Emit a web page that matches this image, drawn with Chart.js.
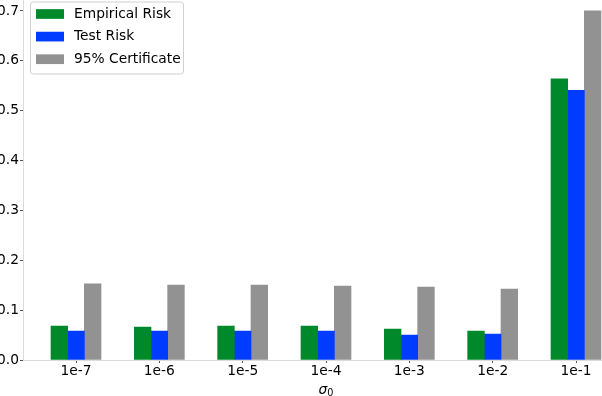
<!DOCTYPE html>
<html>
<head>
<meta charset="utf-8">
<script src="https://cdn.jsdelivr.net/npm/chart.js@4"></script>
<style>
  html, body { margin: 0; padding: 0; background: #fff; overflow: hidden; width: 602px; height: 396px; }
  #riskChart { position: absolute; left: -40px; top: -20px; width: 700px; height: 440px; }
</style>
</head>
<body>
<canvas id="riskChart" width="700" height="440"></canvas>
<script>
// Data
const sigmaLabels = ['1e-7', '1e-6', '1e-5', '1e-4', '1e-3', '1e-2', '1e-1'];
const empiricalRisk = [0.068, 0.066, 0.068, 0.068, 0.062, 0.058, 0.564];
const testRisk = [0.058, 0.058, 0.058, 0.058, 0.050, 0.052, 0.541];
const certificate = [0.153, 0.150, 0.150, 0.148, 0.146, 0.142, 0.700];
const seriesNames = ['Empirical Risk', 'Test Risk', '95% Certificate'];
const seriesColors = ['#00892b', '#003cff', '#929292'];

const FONT = 'DejaVu Sans';
const FONT_SIZE = 13.8;

Chart.defaults.font.family = FONT;
Chart.defaults.font.size = FONT_SIZE;
Chart.defaults.color = '#000';

function toPoints(values) {
    return values.map((v, i) => ({ x: i, y: v }));
}

// matplotlib-style legend box in the upper left corner
const boxLegend = {
    id: 'boxLegend',
    afterDraw(chart) {
        const ctx = chart.ctx;
        const area = chart.chartArea;
        const left = area.left + 7;
        const top = area.top + 8;
        const w = 153, h = 72;

        ctx.save();
        ctx.beginPath();
        ctx.roundRect(left + 0.5, top + 0.5, w, h, 3);
        ctx.fillStyle = 'rgba(255,255,255,0.8)';
        ctx.fill();
        ctx.strokeStyle = '#d0d0d0';
        ctx.lineWidth = 1;
        ctx.stroke();

        ctx.font = FONT_SIZE + 'px "' + FONT + '"';
        ctx.textBaseline = 'middle';
        ctx.textAlign = 'left';
        chart.data.datasets.forEach((ds, i) => {
            const cy = top + 12.5 + i * 22.6;
            ctx.fillStyle = ds.backgroundColor;
            ctx.fillRect(left + 6, cy - 4.85, 28, 9.7);
            ctx.fillStyle = '#000';
            ctx.fillText(ds.label, left + 44, cy);
        });
        ctx.restore();
    }
};

// x axis title: italic sigma with upright subscript 0
const sigmaTitle = {
    id: 'sigmaTitle',
    afterDraw(chart) {
        const ctx = chart.ctx;
        const area = chart.chartArea;
        const cx = (area.left + area.right) / 2;
        const base = area.bottom + 33.5;
        ctx.save();
        ctx.fillStyle = '#000';
        ctx.textBaseline = 'alphabetic';
        ctx.textAlign = 'left';
        const bigFont = 'italic ' + FONT_SIZE + 'px "' + FONT + '"';
        const smallFont = (FONT_SIZE * 0.7) + 'px "' + FONT + '"';
        ctx.font = bigFont;
        const w1 = ctx.measureText('σ').width;
        ctx.font = smallFont;
        const w2 = ctx.measureText('0').width;
        const x0 = cx - (w1 + w2) / 2;
        ctx.font = bigFont;
        ctx.fillText('σ', x0, base);
        ctx.font = smallFont;
        ctx.fillText('0', x0 + w1, base + 2);
        ctx.restore();
    }
};

const ctx = document.getElementById('riskChart');

new Chart(ctx, {
    type: 'bar',
    data: {
        datasets: [
            { label: seriesNames[0], data: toPoints(empiricalRisk), backgroundColor: seriesColors[0] },
            { label: seriesNames[1], data: toPoints(testRisk), backgroundColor: seriesColors[1] },
            { label: seriesNames[2], data: toPoints(certificate), backgroundColor: seriesColors[2] }
        ]
    },
    options: {
        responsive: false,
        animation: false,
        devicePixelRatio: 1,
        barThickness: 16.67,
        borderWidth: 0,
        layout: { padding: { left: 0, top: 13.5, right: 31, bottom: 0 } },
        scales: {
            x: {
                type: 'linear',
                offset: false,
                min: -0.636,
                max: 6.636,
                afterFit: scale => { scale.height = 60; },
                grid: { drawOnChartArea: false, tickLength: 3, tickColor: '#555', offset: false },
                border: { color: '#dcdcdc' },
                ticks: {
                    stepSize: 1,
                    includeBounds: false,
                    padding: 0,
                    maxRotation: 0,
                    autoSkip: false,
                    callback: value => sigmaLabels[value] ?? ''
                }
            },
            y: {
                min: 0,
                max: 0.735,
                afterFit: scale => { scale.width = 63; },
                grid: { drawOnChartArea: false, tickLength: 3, tickColor: '#555' },
                border: { color: '#dcdcdc' },
                ticks: {
                    stepSize: 0.1,
                    includeBounds: false,
                    padding: 1,
                    callback: value => value.toFixed(1)
                }
            }
        },
        plugins: {
            legend: { display: false },
            tooltip: { enabled: false }
        }
    },
    plugins: [boxLegend, sigmaTitle]
});
</script>
</body>
</html>
